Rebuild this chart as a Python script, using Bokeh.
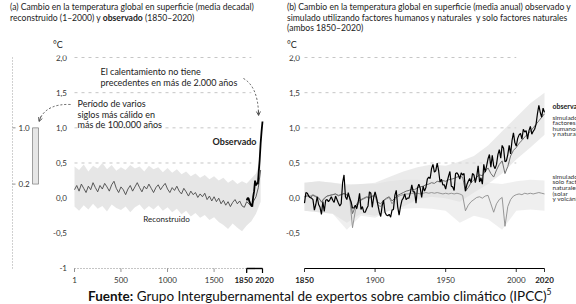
from bokeh.plotting import figure
from bokeh.models import Range1d, Arrow, OpenHead, Div
from bokeh.layouts import row, column
from bokeh.embed import file_html
from bokeh.resources import INLINE
from bokeh.core.properties import value

FONT = "Lato"
INK = "#222222"

# ---------------- data ----------------
# (a) reconstructed global surface temperature (decadal), 1-2000, °C rel. 1850-1900
recon_years = [1] + list(range(25, 2001, 25))
recon_vals = [
    0.12,
    0.18, 0.10, 0.20, 0.14, 0.08, 0.17, 0.12, 0.22,
    0.15, 0.09, 0.18, 0.13, 0.21, 0.16, 0.10, 0.19,
    0.24, 0.14, 0.08, 0.16, 0.12, 0.05, 0.13, 0.18,
    0.10, 0.16, 0.22, 0.15, 0.09, 0.17, 0.13, 0.20,
    0.14, 0.08, 0.15, 0.19, 0.12, 0.17, 0.21, 0.13,
    0.08, 0.15, 0.11, 0.17, 0.10, 0.06, 0.14, 0.09,
    0.03, 0.10, 0.05, 0.08, 0.01, 0.06, 0.02, 0.07,
    -0.02, 0.03, -0.04, 0.02, -0.05, 0.00, -0.08, -0.03,
    -0.10, -0.05, -0.12, -0.06, -0.02, -0.08, -0.04, -0.11,
    -0.13, -0.05, -0.08, -0.12, -0.04, 0.02, 0.15, 0.40,
]
recon_band_years = [1] + list(range(50, 2001, 50))
recon_upper = [
    0.45, 0.40, 0.48, 0.38, 0.46, 0.42, 0.50, 0.41, 0.47, 0.39, 0.44,
    0.40, 0.47, 0.42, 0.45, 0.38, 0.46, 0.41, 0.44, 0.37, 0.43,
    0.36, 0.41, 0.34, 0.38, 0.31, 0.35, 0.29, 0.33, 0.27, 0.31,
    0.25, 0.29, 0.22, 0.26, 0.20, 0.24, 0.21, 0.28, 0.35, 0.55,
]
recon_lower = [
    -0.12, -0.18, -0.10, -0.16, -0.08, -0.15, -0.11, -0.19, -0.09, -0.14, -0.17,
    -0.12, -0.20, -0.13, -0.09, -0.17, -0.11, -0.16, -0.10, -0.18, -0.13,
    -0.20, -0.15, -0.23, -0.18, -0.26, -0.21, -0.28, -0.24, -0.31, -0.27,
    -0.34, -0.38, -0.44, -0.36, -0.42, -0.47, -0.39, -0.33, -0.22, -0.05,
]
# (a) observed, decadal 1850-2020
obs_dec_years = list(range(1850, 2021, 10))
obs_dec_vals = [-0.03, 0.00, 0.00, -0.05, -0.08, -0.10, -0.12, 0.02, 0.10,
                0.25, 0.18, 0.22, 0.20, 0.38, 0.55, 0.78, 0.95, 1.09]
# warmest multi-century period in more than 100,000 years
warm_period = [0.2, 1.0]
warm_labels = ["0.2", "1.0"]

# (b) observed, annual 1850-2020
obs_years = list(range(1850, 2021))
obs_vals = [
    -0.07, 0.08, 0.07, 0.03, 0.01, 0.00, -0.02, -0.17, -0.09, 0.02,
    -0.09, -0.13, -0.23, -0.05, -0.19, -0.03, -0.02, -0.05, -0.02, 0.02,
    -0.03, -0.06, 0.03, -0.02, -0.07, -0.11, -0.08, 0.22, 0.33, 0.02,
    -0.02, 0.08, 0.00, -0.05, -0.14, -0.14, -0.10, -0.15, -0.06, 0.07,
    -0.16, -0.12, -0.20, -0.20, -0.15, -0.11, 0.09, 0.07, -0.13, 0.01,
    0.09, 0.01, -0.10, -0.20, -0.26, -0.11, -0.03, -0.20, -0.24, -0.25,
    -0.23, -0.27, -0.17, -0.16, 0.04, 0.11, -0.12, -0.24, -0.12, -0.03,
    0.00, 0.06, -0.02, 0.00, 0.00, 0.08, 0.19, 0.09, 0.09, -0.07,
    0.14, 0.20, 0.14, 0.01, 0.17, 0.10, 0.15, 0.27, 0.30, 0.28,
    0.42, 0.48, 0.37, 0.39, 0.50, 0.39, 0.23, 0.27, 0.19, 0.19,
    0.13, 0.23, 0.31, 0.38, 0.17, 0.16, 0.11, 0.35, 0.36, 0.33,
    0.27, 0.36, 0.33, 0.35, 0.10, 0.19, 0.24, 0.28, 0.22, 0.35,
    0.33, 0.22, 0.31, 0.46, 0.23, 0.29, 0.20, 0.48, 0.37, 0.46,
    0.56, 0.62, 0.44, 0.61, 0.46, 0.42, 0.48, 0.62, 0.69, 0.57,
    0.75, 0.71, 0.52, 0.53, 0.62, 0.75, 0.63, 0.82, 0.93, 0.79,
    0.74, 0.85, 0.90, 0.92, 0.84, 0.98, 0.94, 0.96, 0.84, 0.96,
    1.02, 0.91, 0.95, 0.98, 1.05, 1.20, 1.32, 1.22, 1.15, 1.28,
    1.22,
]
# (b) simulated, every 2 years
sim_years = list(range(1850, 2021, 2))
sim_hn = [  # human + natural factors
    0.02, 0.03, 0.01, 0.04, 0.02, 0.00, -0.05, 0.00, 0.03, 0.04,
    0.05, 0.06, 0.04, 0.05, 0.07, 0.05, 0.02, -0.22, -0.12, -0.05,
    -0.02, 0.00, 0.02, 0.01, 0.03, 0.04, -0.06, -0.08, -0.03, 0.00,
    0.02, -0.04, 0.00, 0.04, 0.06, 0.08, 0.10, 0.11, 0.13, 0.12,
    0.15, 0.16, 0.17, 0.19, 0.20, 0.22, 0.21, 0.24, 0.23, 0.25,
    0.24, 0.26, 0.27, 0.28, 0.30, 0.31, 0.30, 0.10, 0.15, 0.22,
    0.26, 0.30, 0.33, 0.32, 0.38, 0.43, 0.35, 0.30, 0.40, 0.48,
    0.53, 0.35, 0.45, 0.60, 0.68, 0.72, 0.78, 0.82, 0.87, 0.91,
    0.95, 1.00, 1.05, 1.10, 1.15, 1.20,
]
sim_nat = [  # natural factors only (solar and volcanic)
    0.02, 0.04, 0.03, 0.05, 0.03, 0.01, -0.06, -0.01, 0.03, 0.04,
    0.05, 0.06, 0.03, 0.05, 0.06, 0.04, 0.01, -0.42, -0.18, -0.08,
    -0.03, -0.01, 0.01, 0.00, 0.02, 0.03, -0.10, -0.12, -0.04, -0.01,
    0.01, -0.08, -0.02, 0.02, 0.04, 0.05, 0.06, 0.06, 0.07, 0.06,
    0.07, 0.06, 0.07, 0.08, 0.07, 0.08, 0.07, 0.08, 0.07, 0.06,
    0.07, 0.06, 0.07, 0.06, 0.07, 0.06, 0.04, -0.18, -0.10, -0.05,
    -0.02, 0.01, 0.02, 0.00, 0.03, 0.04, -0.08, -0.20, -0.08, -0.02,
    0.01, -0.40, -0.12, -0.02, 0.03, 0.05, 0.06, 0.05, 0.07, 0.06,
    0.07, 0.06, 0.07, 0.08, 0.07, 0.06,
]
band_years = list(range(1850, 2021, 10))
hn_upper = [0.22, 0.24, 0.22, 0.18, 0.20, 0.22, 0.30, 0.38, 0.44, 0.48,
            0.46, 0.52, 0.60, 0.75, 0.95, 1.15, 1.35, 1.50]
hn_lower = [-0.18, -0.20, -0.22, -0.35, -0.22, -0.25, -0.18, -0.12, -0.02, 0.02,
            0.00, -0.05, 0.08, 0.20, 0.35, 0.55, 0.72, 0.90]
nat_upper = [0.22, 0.24, 0.22, 0.20, 0.20, 0.20, 0.24, 0.26, 0.26, 0.25,
             0.24, 0.22, 0.22, 0.22, 0.20, 0.24, 0.26, 0.25]
nat_lower = [-0.18, -0.20, -0.22, -0.45, -0.25, -0.28, -0.18, -0.15, -0.14, -0.15,
             -0.18, -0.35, -0.25, -0.30, -0.45, -0.18, -0.16, -0.18]

# ticks
a_yticks = [-1.0, -0.5, 0.0, 0.5, 1.0, 1.5, 2.0]
a_ylabels = ["-1", "-0,5", "0,0", "0,5", "1,0", "1,5", "2,0"]
b_yticks = [-0.5, 0.0, 0.5, 1.0, 1.5, 2.0]
b_ylabels = ["-0,5", "0,0", "0,5", "1,0", "1,5", "2,0"]
grid_levels = [0.5, 1.0, 1.5, 2.0]
a_xticks = [1, 500, 1000, 1500, 1850, 2020]
b_xticks = [1850, 1900, 1950, 2000, 2020]
bold_xticks = [1850, 2020]
AXIS_Y = -1.0

# ---------------- geometry helpers (reference pixel -> data) ----------------
def ypx(py):
    return 2.0 - (py - 57.0) / 70.33

A_SCALE = 188.0 / 2019.0
def axp(px):
    return 1 + (px - 74.0) / A_SCALE

B_SCALE = 240.0 / 170.0
def bxp(px):
    return 1850 + (px - 304.0) / B_SCALE

FIG_TOP = 50      # figures start below the title blocks
FIG_BOTTOM = 284  # source line below
YR = (ypx(FIG_BOTTOM), ypx(55))

common = dict(height=FIG_BOTTOM - FIG_TOP, toolbar_location=None, output_backend="svg",
              min_border_top=5, min_border_bottom=0, min_border_left=0, min_border_right=0,
              x_axis_location=None, y_axis_location=None,
              background_fill_color="white", border_fill_color="white",
              outline_line_color=None)

def txt(p, x, y, text, size="8px", style="normal", align="left", color=INK, x_offset=0):
    p.text(x=x, y=y, text=text, x_offset=x_offset, text_font=value(FONT), text_font_size=size,
           text_font_style=style, text_align=align, text_baseline="middle",
           text_color=color)

def x_axis(p, ticks, line_color, line_dash, line_width, tick_color, label_offsets):
    n = len(ticks)
    p.segment(x0=[ticks[0]], x1=[ticks[-1]], y0=[AXIS_Y], y1=[AXIS_Y],
              line_color=line_color, line_width=line_width, line_dash=line_dash)
    p.segment(x0=ticks, x1=ticks, y0=[AXIS_Y] * n, y1=[ypx(271.5)] * n,
              line_color=tick_color, line_width=0.8)
    normal = [t for t in ticks if t not in bold_xticks]
    bold = [t for t in ticks if t in bold_xticks]
    txt(p, normal, [ypx(279)] * len(normal), [str(t) for t in normal],
        align="center", color="#333333")
    txt(p, bold, [ypx(279)] * len(bold), [str(t) for t in bold],
        style="bold", align="center", color="#222222", x_offset=label_offsets)

# ================= panel (a) =================
pa = figure(width=282, x_range=Range1d(axp(0), axp(282)), y_range=Range1d(*YR), **common)
pa.grid.visible = False

# grid lines
pa.segment(x0=[recon_years[0]] * len(grid_levels), x1=[1900] * len(grid_levels),
           y0=grid_levels, y1=grid_levels, line_color="#b8b8b8", line_width=0.8, line_dash="3 4")

# reconstructed band + line
pa.varea(x=recon_band_years, y1=recon_lower, y2=recon_upper, fill_color="#e3e3e3", fill_alpha=0.9)
pa.line(recon_years, recon_vals, line_color="#4a4a4a", line_width=0.9)
# observed
pa.line(obs_dec_years, obs_dec_vals, line_color="black", line_width=1.8)

# x axis (dotted) with 1850-2020 bracket
x_axis(pa, a_xticks, "#8a8a8a", "1 2", 1.0, "#777777", [-3, 2])
pa.segment(x0=[obs_dec_years[0]], x1=[obs_dec_years[-1]], y0=[AXIS_Y], y1=[AXIS_Y],
           line_color="black", line_width=1.4)
pa.segment(x0=[obs_dec_years[0], obs_dec_years[-1]], x1=[obs_dec_years[0], obs_dec_years[-1]],
           y0=[AXIS_Y] * 2, y1=[ypx(272.5)] * 2, line_color="black", line_width=1.2)

# y tick labels
txt(pa, [axp(66.5)] * len(a_yticks), a_yticks, a_ylabels, align="right", color="#333333")

# warmest multi-century period bar (left)
pa.segment(x0=[axp(12)], x1=[axp(12)], y0=[a_yticks[0]], y1=[a_yticks[-1]],
           line_color="#8a8a8a", line_width=0.8, line_dash="1 2")
pa.segment(x0=[axp(12)] * 2, x1=[axp(15)] * 2, y0=warm_period, y1=warm_period,
           line_color="#777777", line_width=0.8)
txt(pa, [axp(18)] * 2, warm_period, warm_labels, color="#333333")
pa.quad(left=[axp(32)], right=[axp(38)], bottom=[warm_period[0]], top=[warm_period[1]],
        fill_color="#e6e6e6", line_color="#666666", line_width=0.6)

# annotations
txt(pa, [axp(100)] * 2, [ypx(71), ypx(81.5)],
    ["El calentamiento no tiene", "precedentes en más de 2.000 años"], size="9px")
txt(pa, [axp(77)] * 3, [ypx(103), ypx(113.5), ypx(124)],
    ["Período de varios", "siglos más cálido en", "más de 100.000 años"], size="9px")
txt(pa, [axp(256)], [ypx(141)], ["Observado"], size="9px", style="bold", align="right")
txt(pa, [axp(166)], [ypx(218)], ["Reconstruido"], size="8px", align="center")

pa.quadratic(x0=[axp(243)], y0=[ypx(78)], x1=[axp(258)], y1=[ypx(112)],
             cx=[axp(257)], cy=[ypx(86)], line_color="#444444", line_width=0.9, line_dash="2 2")
pa.add_layout(Arrow(end=OpenHead(size=4, line_color="#444444", line_width=0.9),
                    x_start=axp(257.9), y_start=ypx(110), x_end=axp(258.1), y_end=ypx(115),
                    line_color="#444444", line_width=0.9))
pa.quadratic(x0=[axp(70)], y0=[ypx(104)], x1=[axp(39.5)], y1=[ypx(118)],
             cx=[axp(47)], cy=[ypx(103)], line_color="#444444", line_width=0.9, line_dash="2 2")
pa.add_layout(Arrow(end=OpenHead(size=4, line_color="#444444", line_width=0.9),
                    x_start=axp(40.5), y_start=ypx(116), x_end=axp(38.5), y_end=ypx(121),
                    line_color="#444444", line_width=0.9))

# ================= panel (b) =================
pb = figure(width=294, x_range=Range1d(bxp(282), bxp(576)), y_range=Range1d(*YR), **common)
pb.grid.visible = False

pb.segment(x0=[b_xticks[0]] * len(grid_levels), x1=[2000] * len(grid_levels),
           y0=grid_levels, y1=grid_levels, line_color="#b8b8b8", line_width=0.8, line_dash="3 4")

pb.varea(x=band_years, y1=nat_lower, y2=nat_upper, fill_color="#e8e8e8", fill_alpha=0.7)
pb.varea(x=band_years, y1=hn_lower, y2=hn_upper, fill_color="#dedede", fill_alpha=0.6)
pb.line(sim_years, sim_nat, line_color="#8c8c8c", line_width=0.9)
pb.line(sim_years, sim_hn, line_color="#6e6e6e", line_width=1.0)
pb.line(obs_years, obs_vals, line_color="black", line_width=1.2)

x_axis(pb, b_xticks, "black", "solid", 1.2, "black", [0, 0])
txt(pb, [bxp(299.5)] * len(b_yticks), b_yticks, b_ylabels, align="right", color="#333333")

txt(pb, [bxp(552)], [ypx(105)], ["observado"], size="7px", style="bold")
txt(pb, [bxp(552)] * 4, [ypx(116.5 + 5.6 * i) for i in range(4)],
    ["simulado", "factores", "humanos", "y naturales"], size="6.5px", color="#333333")
txt(pb, [bxp(552)] * 5, [ypx(175.5 + 5.7 * i) for i in range(5)],
    ["simulado", "solo factores", "naturales", "(solar", "y volcánico)"], size="6.5px", color="#333333")

# ================= titles, unit labels and source =================
def title_block(width, left, lines, unit_left):
    return Div(text=(f'<div style="position:relative;width:{width}px;height:50px;overflow:hidden;'
                     f'font-family:Lato;color:#222;">'
                     f'<div style="position:absolute;left:{left}px;top:2px;font-size:8.6px;'
                     f'line-height:10.5px;white-space:nowrap;">{"<br>".join(lines)}</div>'
                     f'<div style="position:absolute;left:{unit_left}px;top:39px;font-size:9px;'
                     f'line-height:11px;">°C</div></div>'),
               width=width, height=50, margin=(0, 0, 0, 0))

div_a = title_block(282, 10, ["(a) Cambio en la temperatura global en superficie (media decadal)",
                              "reconstruido (1–2000) y <b>observado</b> (1850–2020)"], 53)
div_b = title_block(294, 5, ["(b) Cambio en la temperatura global en superficie (media anual) observado y",
                             "simulado utilizando factores humanos y naturales&nbsp; y solo factores naturales",
                             "(ambos 1850–2020)"], 5)
div_src = Div(text='<div style="font-family:Lato;font-size:13.5px;line-height:16px;color:#111;'
                   'white-space:nowrap;padding-left:88px;padding-top:0px;">'
                   '<b>Fuente:</b> Grupo Intergubernamental de expertos sobre cambio climático (IPCC)'
                   '<span style="font-size:8.5px;vertical-align:6px;">5</span></div>',
              width=576, height=20, margin=(0, 0, 0, 0))

layout = column(row(div_a, div_b), row(pa, pb), div_src)
open("out.html", "w").write(file_html(layout, INLINE))
